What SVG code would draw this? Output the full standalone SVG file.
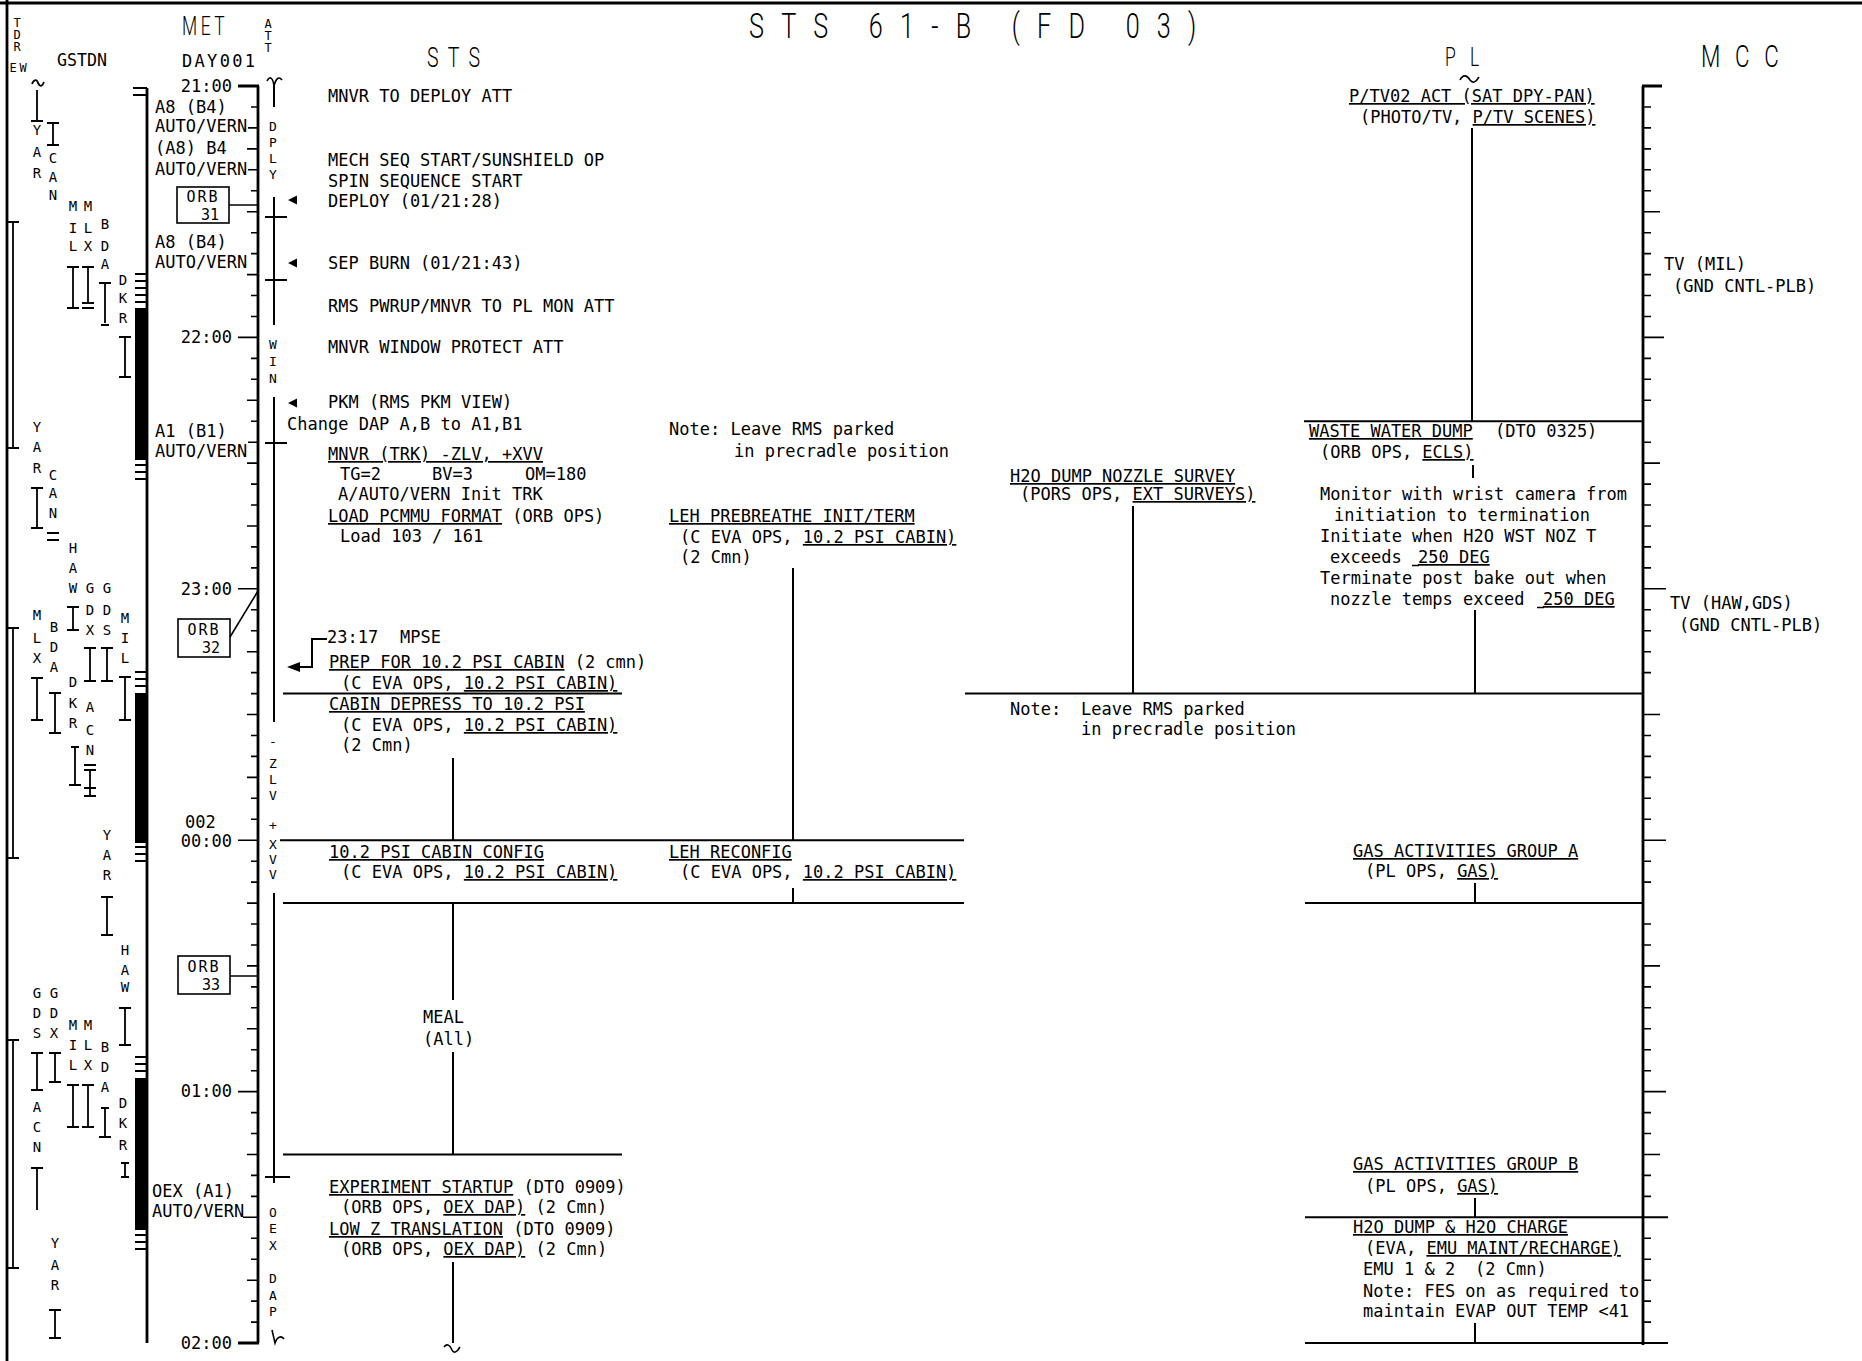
<svg xmlns="http://www.w3.org/2000/svg" width="1862" height="1361" viewBox="0 0 1862 1361">
<style>
text{font-family:"DejaVu Sans Mono","Liberation Mono",monospace;fill:#000;white-space:pre}
.t{font-size:17px}
.sl{font-size:14px;text-anchor:middle}
.v{font-size:15px;text-anchor:middle}
.va{font-size:13px;text-anchor:middle}
.e{text-anchor:end}
.h{font-family:Roboto,"DejaVu Sans",sans-serif;font-weight:300}
.u{text-decoration:underline}
.ln{stroke:#000;stroke-width:2;fill:none}
.th{stroke:#000;stroke-width:1.6;fill:none}
.ax{stroke:#000;stroke-width:2.8;fill:none}
.br{stroke:#000;stroke-width:1.8;fill:none}
.box{fill:#fff;stroke:#000;stroke-width:1.6}
.ar{fill:#000;stroke:none}
</style>
<rect width="1862" height="1361" fill="#fff"/>
<g id="frame">
<path class="ax" d="M0,3H1862 M7,0V1361"/>
</g>
<g id="headers">
<text class="h" transform="translate(749,38) scale(0.7,1)" font-size="36" textLength="639" lengthAdjust="spacing">STS 61-B (FD 03)</text>
<text class="h" transform="translate(182,35) scale(0.7,1)" font-size="25" textLength="61" lengthAdjust="spacing">MET</text>
<text class="h" transform="translate(427,67) scale(0.7,1)" font-size="28" textLength="76" lengthAdjust="spacing">STS</text>
<text class="h" transform="translate(1445,66) scale(0.7,1)" font-size="25" textLength="49" lengthAdjust="spacing">PL</text>
<text class="h" transform="translate(1701,67) scale(0.7,1)" font-size="32" textLength="111" lengthAdjust="spacing">MCC</text>
<text class="t" x="182" y="67" font-size="15" textLength="73" lengthAdjust="spacing">DAY001</text>
<text class="t" x="57" y="66" textLength="50" lengthAdjust="spacingAndGlyphs">GSTDN</text>
<text style="font-size:12px;text-anchor:middle"><tspan x="17" y="27">T</tspan><tspan x="17" y="39">D</tspan><tspan x="17" y="51">R</tspan><tspan x="13" y="72">E</tspan><tspan x="23" y="72">W</tspan></text>
<text style="font-size:12px;text-anchor:middle"><tspan x="268" y="28">A</tspan><tspan x="268" y="40">T</tspan><tspan x="268" y="52">T</tspan></text>
<path class="th" d="M1460,80 C1463,74 1467,75 1470,80 C1473,84 1476,82 1479,77"/>
</g>
<g id="gstdn">
<path class="br" d="M32,84 C34,79 37,79 38,83 C40,87 42,87 44,82"/>
<path class="br" d="M31,121H43 M37,90V121 M47,123H59 M53,123V145 M47,145H59 M67,267H79 M73,267V308 M67,308H79 M82,267H94 M88,267V303 M82,303H94 M82,308H94 M99,283H111 M105,283V323 M101,325H109 M119,337H131 M125,337V377 M119,377H131 M8,222H19 M13,222V448 M8,448H19 M31,488H43 M37,488V528 M31,528H43 M47,533H59 M47,540H59 M67,607H79 M73,607V630 M67,630H79 M84,648H96 M90,648V681 M84,681H96 M101,648H113 M107,648V681 M101,681H113 M119,677H131 M125,677V720 M119,720H131 M31,678H43 M37,678V720 M31,720H43 M49,693H61 M55,693V733 M49,733H61 M71,747H79 M75,747V785 M69,785H81 M84,765H96 M84,770H96 M90,770V796 M84,788H96 M84,796H96 M8,628H19 M13,628V858 M8,858H19 M101,897H113 M107,897V935 M101,935H113 M119,1008H131 M125,1008V1045 M119,1045H131 M31,1053H43 M37,1053V1090 M31,1090H43 M49,1053H61 M55,1053V1082 M49,1082H61 M31,1168H43 M37,1168V1210 M67,1085H79 M73,1085V1127 M67,1127H79 M82,1085H94 M88,1085V1127 M82,1127H94 M101,1108H109 M105,1108V1137 M99,1137H111 M121,1163H129 M125,1163V1177 M121,1177H129 M8,1040H19 M13,1040V1268 M8,1268H19 M49,1310H61 M55,1310V1338 M49,1338H61"/>
<text class="sl"><tspan x="37" y="135">Y</tspan><tspan x="37" y="157">A</tspan><tspan x="37" y="178">R</tspan></text>
<text class="sl"><tspan x="53" y="163">C</tspan><tspan x="53" y="182">A</tspan><tspan x="53" y="200">N</tspan></text>
<text class="sl"><tspan x="73" y="211">M</tspan><tspan x="73" y="233">I</tspan><tspan x="73" y="251">L</tspan></text>
<text class="sl"><tspan x="88" y="211">M</tspan><tspan x="88" y="233">L</tspan><tspan x="88" y="251">X</tspan></text>
<text class="sl"><tspan x="105" y="229">B</tspan><tspan x="105" y="251">D</tspan><tspan x="105" y="269">A</tspan></text>
<text class="sl"><tspan x="123" y="285">D</tspan><tspan x="123" y="303">K</tspan><tspan x="123" y="323">R</tspan></text>
<text class="sl"><tspan x="37" y="432">Y</tspan><tspan x="37" y="452">A</tspan><tspan x="37" y="473">R</tspan></text>
<text class="sl"><tspan x="53" y="480">C</tspan><tspan x="53" y="498">A</tspan><tspan x="53" y="518">N</tspan></text>
<text class="sl"><tspan x="73" y="553">H</tspan><tspan x="73" y="573">A</tspan><tspan x="73" y="593">W</tspan></text>
<text class="sl"><tspan x="90" y="593">G</tspan><tspan x="90" y="615">D</tspan><tspan x="90" y="635">X</tspan></text>
<text class="sl"><tspan x="107" y="593">G</tspan><tspan x="107" y="615">D</tspan><tspan x="107" y="635">S</tspan></text>
<text class="sl"><tspan x="125" y="623">M</tspan><tspan x="125" y="643">I</tspan><tspan x="125" y="663">L</tspan></text>
<text class="sl"><tspan x="37" y="620">M</tspan><tspan x="37" y="643">L</tspan><tspan x="37" y="663">X</tspan></text>
<text class="sl"><tspan x="54" y="632">B</tspan><tspan x="54" y="652">D</tspan><tspan x="54" y="672">A</tspan></text>
<text class="sl"><tspan x="73" y="687">D</tspan><tspan x="73" y="708">K</tspan><tspan x="73" y="728">R</tspan></text>
<text class="sl"><tspan x="90" y="712">A</tspan><tspan x="90" y="735">C</tspan><tspan x="90" y="755">N</tspan></text>
<text class="sl"><tspan x="107" y="840">Y</tspan><tspan x="107" y="860">A</tspan><tspan x="107" y="880">R</tspan></text>
<text class="sl"><tspan x="125" y="955">H</tspan><tspan x="125" y="975">A</tspan><tspan x="125" y="992">W</tspan></text>
<text class="sl"><tspan x="37" y="998">G</tspan><tspan x="37" y="1018">D</tspan><tspan x="37" y="1038">S</tspan></text>
<text class="sl"><tspan x="54" y="998">G</tspan><tspan x="54" y="1018">D</tspan><tspan x="54" y="1038">X</tspan></text>
<text class="sl"><tspan x="73" y="1030">M</tspan><tspan x="73" y="1050">I</tspan><tspan x="73" y="1070">L</tspan></text>
<text class="sl"><tspan x="88" y="1030">M</tspan><tspan x="88" y="1050">L</tspan><tspan x="88" y="1070">X</tspan></text>
<text class="sl"><tspan x="105" y="1052">B</tspan><tspan x="105" y="1072">D</tspan><tspan x="105" y="1092">A</tspan></text>
<text class="sl"><tspan x="123" y="1108">D</tspan><tspan x="123" y="1128">K</tspan><tspan x="123" y="1150">R</tspan></text>
<text class="sl"><tspan x="37" y="1112">A</tspan><tspan x="37" y="1132">C</tspan><tspan x="37" y="1152">N</tspan></text>
<text class="sl"><tspan x="55" y="1248">Y</tspan><tspan x="55" y="1270">A</tspan><tspan x="55" y="1290">R</tspan></text>
<path class="ax" d="M147,88V1343"/>
<rect class="ar" x="135" y="308" width="13" height="152"/>
<rect class="ar" x="135" y="693" width="13" height="150"/>
<rect class="ar" x="135" y="1078" width="13" height="152"/>
<path class="br" d="M133,88H147 M133,95H147 M135,274H147 M135,281H147 M135,288H147 M135,295H147 M135,302H147 M135,465H147 M135,472H147 M135,479H147 M135,672H147 M135,679H147 M135,686H147 M135,847H147 M135,854H147 M135,861H147 M135,1057H147 M135,1064H147 M135,1071H147 M135,1235H147 M135,1242H147 M135,1249H147"/>
</g>
<g id="met-axis">
<path class="ax" d="M258,86V1343 M238,86H259 M238,1343H259"/>
<path class="th" d="M251,107H258 M248,127.9H258 M247,148.9H258 M248,169.8H258 M251,190.8H258 M247,211.7H258 M251,232.7H258 M251,253.6H258 M247,274.6H258 M251,295.5H258 M251,316.5H258 M238,337.4H258 M251,358.4H258 M251,379.3H258 M247,400.3H258 M251,421.2H258 M248,442.2H258 M247,463.1H258 M251,484.1H258 M251,505H258 M247,526H258 M251,546.9H258 M251,567.9H258 M238,588.8H258 M251,609.8H258 M251,630.7H258 M247,651.7H258 M251,672.6H258 M251,693.6H258 M247,714.5H258 M251,735.5H258 M251,756.4H258 M247,777.4H258 M251,798.3H258 M251,819.3H258 M238,840.2H258 M251,861.2H258 M251,882.1H258 M247,903.1H258 M251,924H258 M251,945H258 M247,965.9H258 M251,986.9H258 M251,1007.8H258 M247,1028.8H258 M251,1049.7H258 M251,1070.7H258 M238,1091.6H258 M251,1112.6H258 M251,1133.5H258 M247,1154.5H258 M251,1175.4H258 M251,1196.4H258 M243,1217.3H258 M251,1238.3H258 M251,1259.2H258 M247,1280.2H258 M251,1301.1H258 M251,1322.1H258"/>
<text class="t e" x="232" y="92">21:00</text>
<text class="t" x="155" y="113">A8 (B4)</text>
<text class="t" x="155" y="132">AUTO/VERN</text>
<text class="t" x="155" y="154">(A8) B4</text>
<text class="t" x="155" y="175">AUTO/VERN</text>
<text class="t" x="155" y="248">A8 (B4)</text>
<text class="t" x="155" y="268">AUTO/VERN</text>
<text class="t e" x="232" y="343">22:00</text>
<text class="t" x="155" y="437">A1 (B1)</text>
<text class="t" x="155" y="457">AUTO/VERN</text>
<text class="t e" x="232" y="595">23:00</text>
<text class="t" x="185" y="828">002</text>
<text class="t e" x="232" y="847">00:00</text>
<text class="t e" x="232" y="1097">01:00</text>
<text class="t" x="152" y="1197">OEX (A1)</text>
<text class="t" x="152" y="1217">AUTO/VERN</text>
<text class="t e" x="232" y="1349">02:00</text>
<g id="orb31"><rect class="box" x="177" y="187" width="52" height="36"/><text class="v" x="203" y="202" letter-spacing="2">ORB</text><text class="v" x="210" y="220">31</text></g>
<g id="orb32"><rect class="box" x="178" y="619" width="52" height="38"/><text class="v" x="204" y="635" letter-spacing="2">ORB</text><text class="v" x="211" y="653">32</text></g>
<g id="orb33"><rect class="box" x="178" y="956" width="52" height="38"/><text class="v" x="204" y="972" letter-spacing="2">ORB</text><text class="v" x="211" y="990">33</text></g>
<path class="th" d="M229,205H258 M230,637L258,591 M230,976H258"/>
</g>
<g id="att">
<path class="th" d="M267,81 C270,75 273,78 274,86 C276,78 279,76 282,80"/>
<path class="ln" d="M274,86V107 M274,197V325 M274,397V722 M274,893V1183 M265,217H287 M265,280H287 M265,443H287 M265,1177H290"/>
<path class="th" d="M272,1330 L275,1343 C277,1337 281,1335 284,1339"/>
<text class="va"><tspan x="273" y="131">D</tspan><tspan x="273" y="147">P</tspan><tspan x="273" y="163">L</tspan><tspan x="273" y="179">Y</tspan></text>
<text class="va"><tspan x="273" y="349">W</tspan><tspan x="273" y="366">I</tspan><tspan x="273" y="383">N</tspan></text>
<text class="va"><tspan x="273" y="746">-</tspan><tspan x="273" y="768">Z</tspan><tspan x="273" y="784">L</tspan><tspan x="273" y="800">V</tspan></text>
<text class="va"><tspan x="273" y="830">+</tspan><tspan x="273" y="849">X</tspan><tspan x="273" y="864">V</tspan><tspan x="273" y="879">V</tspan></text>
<text class="va"><tspan x="273" y="1217">O</tspan><tspan x="273" y="1233">E</tspan><tspan x="273" y="1250">X</tspan><tspan x="273" y="1283">D</tspan><tspan x="273" y="1300">A</tspan><tspan x="273" y="1316">P</tspan></text>
</g>
<g id="connectors">
<path class="ln" d="M283,693.6H622 M280,840.2H964 M283,903.1H964 M283,1154.5H622 M965,693.6H1643 M1304,421.2H1643 M1305,903.1H1643 M1305,1217.3H1668 M1305,1343H1668"/>
<path class="ln" d="M453,758V840 M453,903V1000 M453,1052V1154 M453,1262V1343 M793,568V840 M793,888V903 M1133,506V693 M1472,128V421 M1473,465V478 M1475,610V693 M1475,883V903 M1475,1198V1217 M1475,1323V1343"/>
<path class="th" d="M444,1347 C447,1343 450,1345 452,1350 C454,1354 457,1352 460,1347"/>
<path class="ar" d="M288,200L297,195.5L297,204.5Z M288,263L297,258.5L297,267.5Z M288,403L297,398.5L297,407.5Z M287,667L300,662L300,672Z"/>
<path class="ln" d="M327,639H312V667H299"/>
</g>
<g id="sts-deploy">
<text class="t" x="328" y="102">MNVR TO DEPLOY ATT</text>
<text class="t" x="328" y="166">MECH SEQ START/SUNSHIELD OP</text>
<text class="t" x="328" y="187">SPIN SEQUENCE START</text>
<text class="t" x="328" y="207">DEPLOY (01/21:28)</text>
<text class="t" x="328" y="269">SEP BURN (01/21:43)</text>
<text class="t" x="328" y="312">RMS PWRUP/MNVR TO PL MON ATT</text>
<text class="t" x="328" y="353">MNVR WINDOW PROTECT ATT</text>
<text class="t" x="328" y="408">PKM (RMS PKM VIEW)</text>
<text class="t" x="287" y="430">Change DAP A,B to A1,B1</text>
</g>
<g id="sts-mnvr-trk">
<text class="t" x="328" y="460"><tspan class="u">MNVR (TRK) -ZLV, +XVV</tspan></text>
<text class="t" y="480"><tspan x="340">TG=2</tspan><tspan x="432">BV=3</tspan><tspan x="525">OM=180</tspan></text>
<text class="t" x="338" y="500">A/AUTO/VERN Init TRK</text>
<text class="t" x="328" y="522"><tspan class="u">LOAD PCMMU FORMAT</tspan> (ORB OPS)</text>
<text class="t" x="340" y="542">Load 103 / 161</text>
</g>
<g id="sts-prep">
<text class="t" y="643"><tspan x="327">23:17</tspan><tspan x="400">MPSE</tspan></text>
<text class="t" x="329" y="668"><tspan class="u">PREP FOR 10.2 PSI CABIN</tspan> (2 cmn)</text>
<text class="t" x="341" y="689">(C EVA OPS, <tspan class="u">10.2 PSI CABIN)</tspan></text>
</g>
<g id="sts-depress">
<text class="t" x="329" y="710"><tspan class="u">CABIN DEPRESS TO 10.2 PSI</tspan></text>
<text class="t" x="341" y="731">(C EVA OPS, <tspan class="u">10.2 PSI CABIN)</tspan></text>
<text class="t" x="341" y="751">(2 Cmn)</text>
</g>
<g id="sts-config">
<text class="t" x="329" y="858"><tspan class="u">10.2 PSI CABIN CONFIG</tspan></text>
<text class="t" x="341" y="878">(C EVA OPS, <tspan class="u">10.2 PSI CABIN)</tspan></text>
</g>
<g id="sts-meal">
<text class="t" x="423" y="1023">MEAL</text>
<text class="t" x="423" y="1045">(All)</text>
</g>
<g id="sts-oex">
<text class="t" x="329" y="1193"><tspan class="u">EXPERIMENT STARTUP</tspan> (DTO 0909)</text>
<text class="t" x="341" y="1213">(ORB OPS, <tspan class="u">OEX DAP)</tspan> (2 Cmn)</text>
<text class="t" x="329" y="1235"><tspan class="u">LOW Z TRANSLATION</tspan> (DTO 0909)</text>
<text class="t" x="341" y="1255">(ORB OPS, <tspan class="u">OEX DAP)</tspan> (2 Cmn)</text>
</g>
<g id="note-rms-1">
<text class="t" x="669" y="435">Note: Leave RMS parked</text>
<text class="t" x="734" y="457">in precradle position</text>
</g>
<g id="leh-prebreathe">
<text class="t" x="669" y="522"><tspan class="u">LEH PREBREATHE INIT/TERM</tspan></text>
<text class="t" x="680" y="543">(C EVA OPS, <tspan class="u">10.2 PSI CABIN)</tspan></text>
<text class="t" x="680" y="563">(2 Cmn)</text>
</g>
<g id="leh-reconfig">
<text class="t" x="669" y="858"><tspan class="u">LEH RECONFIG</tspan></text>
<text class="t" x="680" y="878">(C EVA OPS, <tspan class="u">10.2 PSI CABIN)</tspan></text>
</g>
<g id="h2o-nozzle">
<text class="t" x="1010" y="482"><tspan class="u">H2O DUMP NOZZLE SURVEY</tspan></text>
<text class="t" x="1020" y="500">(PORS OPS, <tspan class="u">EXT SURVEYS)</tspan></text>
</g>
<g id="note-rms-2">
<text class="t" y="715"><tspan x="1010">Note:</tspan><tspan x="1081">Leave RMS parked</tspan></text>
<text class="t" x="1081" y="735">in precradle position</text>
</g>
<g id="pl-ptv">
<text class="t" x="1349" y="102"><tspan class="u">P/TV02 ACT (SAT DPY-PAN)</tspan></text>
<text class="t" x="1360" y="123">(PHOTO/TV, <tspan class="u">P/TV SCENES)</tspan></text>
</g>
<g id="pl-waste">
<text class="t" y="437"><tspan x="1309" class="u">WASTE WATER DUMP</tspan><tspan x="1495">(DTO 0325)</tspan></text>
<text class="t" x="1320" y="458">(ORB OPS, <tspan class="u">ECLS)</tspan></text>
<text class="t" x="1320" y="500">Monitor with wrist camera from</text>
<text class="t" x="1334" y="521">initiation to termination</text>
<text class="t" x="1320" y="542">Initiate when H2O WST NOZ T</text>
<text class="t" y="563"><tspan x="1330">exceeds</tspan><tspan x="1418" class="u">250 DEG</tspan></text>
<text class="t" x="1320" y="584">Terminate post bake out when</text>
<text class="t" y="605"><tspan x="1330">nozzle temps exceed</tspan><tspan x="1543" class="u">250 DEG</tspan></text>
<path class="th" d="M1412,565.5H1419 M1537,607.5H1544"/>
</g>
<g id="pl-gas-a">
<text class="t" x="1353" y="857"><tspan class="u">GAS ACTIVITIES GROUP A</tspan></text>
<text class="t" x="1365" y="877">(PL OPS, <tspan class="u">GAS)</tspan></text>
</g>
<g id="pl-gas-b">
<text class="t" x="1353" y="1170"><tspan class="u">GAS ACTIVITIES GROUP B</tspan></text>
<text class="t" x="1365" y="1192">(PL OPS, <tspan class="u">GAS)</tspan></text>
</g>
<g id="pl-h2o-charge">
<text class="t" x="1353" y="1233"><tspan class="u">H2O DUMP &amp; H2O CHARGE</tspan></text>
<text class="t" x="1365" y="1254">(EVA, <tspan class="u">EMU MAINT/RECHARGE)</tspan></text>
<text class="t" y="1275"><tspan x="1363">EMU 1 &amp; 2</tspan><tspan x="1475">(2 Cmn)</tspan></text>
<text class="t" x="1363" y="1297">Note: FES on as required to</text>
<text class="t" x="1363" y="1317">maintain EVAP OUT TEMP &lt;41</text>
</g>
<g id="mcc-axis">
<path class="ax" d="M1643,86V1345 M1642,86H1662"/>
<path class="th" d="M1643,107H1651 M1643,127.9H1651 M1643,148.9H1651 M1643,169.8H1651 M1643,190.8H1651 M1643,211.7H1660 M1643,232.7H1651 M1643,253.6H1651 M1643,274.6H1651 M1643,295.5H1651 M1643,316.5H1651 M1643,337.4H1664 M1643,358.4H1651 M1643,379.3H1651 M1643,400.3H1651 M1643,442.2H1651 M1643,463.1H1660 M1643,484.1H1651 M1643,505H1651 M1643,526H1651 M1643,546.9H1651 M1643,567.9H1651 M1643,588.8H1666 M1643,609.8H1651 M1643,630.7H1651 M1643,651.7H1651 M1643,672.6H1651 M1643,714.5H1660 M1643,735.5H1651 M1643,756.4H1651 M1643,777.4H1651 M1643,798.3H1651 M1643,819.3H1651 M1643,840.2H1666 M1643,861.2H1651 M1643,882.1H1651 M1643,924H1651 M1643,945H1651 M1643,965.9H1660 M1643,986.9H1651 M1643,1007.8H1651 M1643,1028.8H1651 M1643,1049.7H1651 M1643,1070.7H1651 M1643,1091.6H1666 M1643,1112.6H1651 M1643,1133.5H1651 M1643,1154.5H1660 M1643,1175.4H1651 M1643,1196.4H1651 M1643,1238.3H1651 M1643,1259.2H1651 M1643,1280.2H1651 M1643,1301.1H1651 M1643,1322.1H1651"/>
</g>
<g id="mcc-tv-mil">
<text class="t" x="1664" y="270">TV (MIL)</text>
<text class="t" x="1673" y="292">(GND CNTL-PLB)</text>
</g>
<g id="mcc-tv-haw">
<text class="t" x="1670" y="609">TV (HAW,GDS)</text>
<text class="t" x="1679" y="631">(GND CNTL-PLB)</text>
</g>
</svg>
